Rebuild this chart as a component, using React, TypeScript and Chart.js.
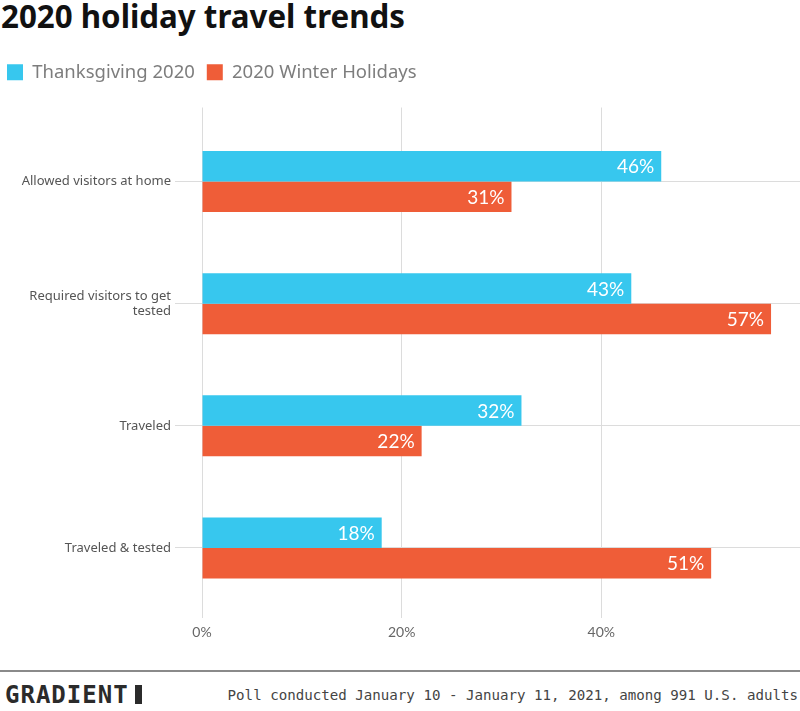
import React, { useEffect, useRef } from "react";
import { Chart, registerables } from "chart.js";

Chart.register(...registerables);

const categories: (string | string[])[] = [
  "Allowed visitors at home",
  ["Required visitors to get", "tested"],
  "Traveled",
  "Traveled & tested",
];
const thanksgiving = [46, 43, 32, 18];
const winterHolidays = [31, 57, 22, 51];
const seriesNames = ["Thanksgiving 2020", "2020 Winter Holidays"];
const seriesColors = ["#37c7ee", "#ef5d38"];
const xTicks = [0, 20, 40];

const GRID = "#dcdcdc";

const valueLabels = {
  id: "valueLabels",
  afterDatasetsDraw(chart: any) {
    const ctx = chart.ctx;
    ctx.save();
    ctx.fillStyle = "#ffffff";
    ctx.font = "400 19px Lato";
    ctx.textAlign = "right";
    ctx.textBaseline = "middle";
    chart.data.datasets.forEach((ds: any, di: number) => {
      const meta = chart.getDatasetMeta(di);
      meta.data.forEach((bar: any, i: number) => {
        const { x, y } = bar.getProps(["x", "y"], true);
        ctx.fillText(ds.data[i] + "%", x - 7, y + 1);
      });
    });
    ctx.restore();
  },
};

export default function App() {
  const ref = useRef<HTMLCanvasElement>(null);
  useEffect(() => {
    if (!ref.current) return;
    const chart = new Chart(ref.current, {
      type: "bar",
      data: {
        labels: categories as any,
        datasets: [
          { label: seriesNames[0], data: thanksgiving, backgroundColor: seriesColors[0], borderWidth: 0 },
          { label: seriesNames[1], data: winterHolidays, backgroundColor: seriesColors[1], borderWidth: 0 },
        ],
      },
      options: {
        indexAxis: "y",
        animation: false,
        responsive: false,
        maintainAspectRatio: false,
        layout: { padding: { top: 6, left: 0, right: 0, bottom: 0 } },
        datasets: { bar: { categoryPercentage: 0.5, barPercentage: 1 } },
        plugins: {
          legend: {
            display: true,
            position: "top",
            align: "start",
            labels: {
              boxWidth: 16,
              boxHeight: 16,
              padding: 12,
              color: "#7d7d7d",
              font: { family: "'Noto Sans'", size: 18.5 },
            },
          },
          title: { display: false },
          tooltip: { enabled: false },
        },
        scales: {
          x: {
            type: "linear",
            position: "bottom",
            min: 0,
            max: 59.9,
            afterBuildTicks: (s: any) => {
              s.ticks = xTicks.map((v) => ({ value: v }));
            },
            ticks: {
              stepSize: 20,
              includeBounds: false,
              padding: 6,
              color: "#666",
              font: { family: "Lato", size: 14 },
              callback: (v: any) => v + "%",
            },
            grid: { color: GRID, tickLength: 9, drawTicks: true },
            border: { display: false },
            afterFit: (s: any) => {
              s.height = 51;
            },
          },
          x2: {
            type: "linear",
            position: "top",
            min: 0,
            max: 59.9,
            afterBuildTicks: (s: any) => {
              s.ticks = xTicks.map((v) => ({ value: v }));
            },
            ticks: { display: false, stepSize: 20, includeBounds: false },
            grid: { color: GRID, tickLength: 13, drawOnChartArea: false, drawTicks: true },
            border: { display: false },
            afterFit: (s: any) => {
              s.height = 29;
            },
          },
          y: {
            type: "category",
            offset: true,
            ticks: {
              color: "#555",
              padding: 4,
              font: { family: "'Noto Sans'", size: 13, lineHeight: 1.1 },
            },
            grid: { color: GRID, offset: false, tickLength: 27, drawTicks: true },
            border: { display: false },
            afterFit: (s: any) => {
              s.width = 207;
            },
          },
        },
      },
      plugins: [valueLabels],
    });
    return () => chart.destroy();
  }, []);

  return (
    <div
      style={{
        position: "absolute",
        left: 0,
        top: 0,
        width: 800,
        height: 711,
        overflow: "hidden",
        background: "#fff",
      }}
    >
      <div
        style={{
          position: "absolute",
          left: 1,
          top: -5,
          fontFamily: "'Noto Sans', sans-serif",
          fontWeight: 700,
          fontSize: 31.3,
          color: "#111",
          whiteSpace: "nowrap",
          lineHeight: "42px",
        }}
      >
        2020 holiday travel trends
      </div>
      <canvas
        ref={ref}
        width={805}
        height={615}
        style={{ position: "absolute", left: -5, top: 45, width: 805, height: 615 }}
      />
      <div
        style={{
          position: "absolute",
          left: 0,
          top: 670,
          width: 800,
          height: 0,
          borderTop: "2px solid #8a8a8a",
        }}
      />
      <div
        style={{
          position: "absolute",
          left: 5,
          top: 680,
          fontFamily: "'DejaVu Sans Mono', monospace",
          fontWeight: 700,
          fontSize: 24,
          color: "#2b2b2b",
          letterSpacing: 1,
          lineHeight: "30px",
          whiteSpace: "nowrap",
        }}
      >
        GRADIENT
        <span
          style={{
            display: "inline-block",
            width: 7,
            height: 19,
            background: "#2b2b2b",
            marginLeft: 6,
            verticalAlign: "-1px",
          }}
        />
      </div>
      <div
        style={{
          position: "absolute",
          right: 2,
          top: 685,
          fontFamily: "'DejaVu Sans Mono', monospace",
          fontSize: 14.15,
          color: "#444",
          lineHeight: "20px",
          whiteSpace: "nowrap",
        }}
      >
        Poll conducted January 10 - January 11, 2021, among 991 U.S. adults
      </div>
    </div>
  );
}
